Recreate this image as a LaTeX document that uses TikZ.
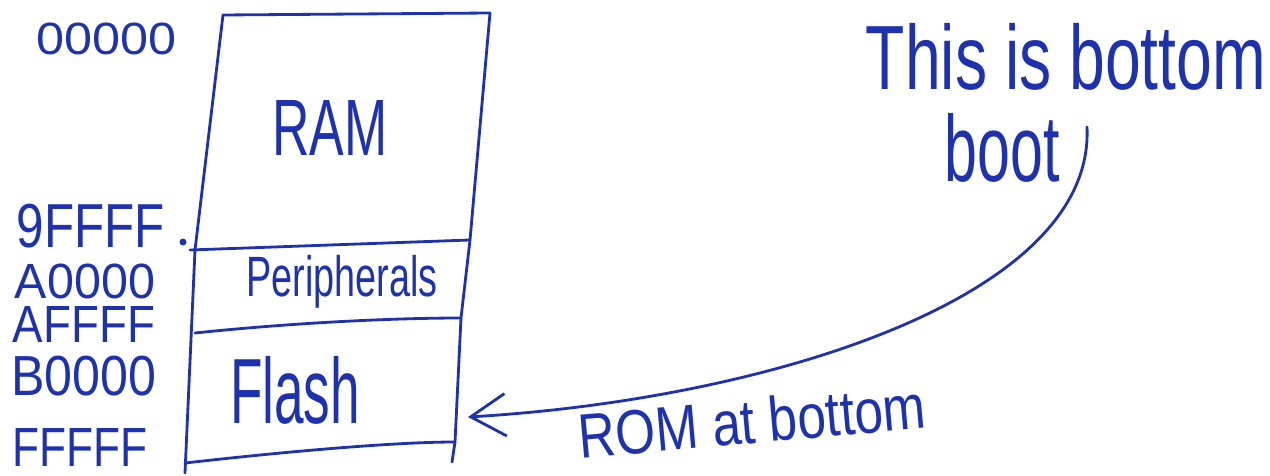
\documentclass[tikz,border=0pt]{standalone}
\usepackage{fontspec}
\setmainfont{Liberation Sans}
\usepackage{graphicx}
\usetikzlibrary{arrows.meta}
\definecolor{pen}{RGB}{30,50,175}
\newlength\pxu
\setlength\pxu{0.02cm}
\newcommand{\hwtext}[3]{\resizebox*{#1\pxu}{#2\pxu}{#3}}
\begin{document}
\begin{tikzpicture}[x=0.02cm,y=-0.02cm,
  ink/.style={draw=pen,line width=1.6pt,line cap=round,line join=round},
  lbl/.style={inner sep=0pt,outer sep=0pt,text=pen,anchor=center}]
\useasboundingbox (0,0) rectangle (1270,476);
% box corners
\coordinate (tl) at (223,15);
\coordinate (tr) at (490,13);
\coordinate (bl) at (185,473);
\coordinate (br) at (452,462);
\coordinate (m1l) at (190,250);
\coordinate (m1r) at (470,240);
\coordinate (m2l) at (195,333);
\coordinate (m2r) at (461,318);
\coordinate (m3l) at (185,463);
\coordinate (m3r) at (455,442);
\draw[ink] (tl) -- (tr);
\draw[ink] (tl) -- (195,250) -- (bl);
\draw[ink] (tr) -- (m1r) -- (m2r) -- (m3r) -- (br);
\draw[ink] (m1l) -- (m1r);
\draw[ink] (m2l) .. controls (300,322) and (400,318) .. (m2r);
\draw[ink] (m3l) .. controls (300,450) and (400,442) .. (m3r);
\fill[pen] (183,242) circle (3.5);
% address labels
\node[lbl] (a0) at (107,39) {\hwtext{140}{32}{00000}};
\node[lbl] (a1) at (91,226) {\hwtext{148}{44}{9FFFF}};
\node[lbl] (a2) at (85,281) {\hwtext{140}{35}{A0000}};
\node[lbl] (a3) at (84,324) {\hwtext{142}{36}{AFFFF}};
\node[lbl] (a4) at (84,376) {\hwtext{145}{40}{B0000}};
\node[lbl] (a5) at (80,447) {\hwtext{135}{38}{FFFFF}};
% region labels
\node[lbl] (ram) at (330,128) {\hwtext{115}{55}{RAM}};
\node[lbl] (per) at (342,282) {\hwtext{191}{53}{Peripherals}};
\node[lbl] (fla) at (295,390) {\hwtext{130}{68}{Flash}};
% notes
\node[lbl] (n1) at (1066,57) {\hwtext{400}{67}{This is bottom}};
\node[lbl] (n2) at (1002,148) {\hwtext{115}{69}{boot}};
\node[lbl,rotate=5] (rom) at (752,421) {\hwtext{348}{46}{ROM at bottom}};
% arrow
\coordinate (cs) at (1087,127);
\coordinate (tip) at (468,417);
\draw[ink,-{Straight Barb[length=0.7cm,width=0.85cm]}] (cs) .. controls (1095,300) and (760,400) .. (tip);
\end{tikzpicture}
\end{document}
